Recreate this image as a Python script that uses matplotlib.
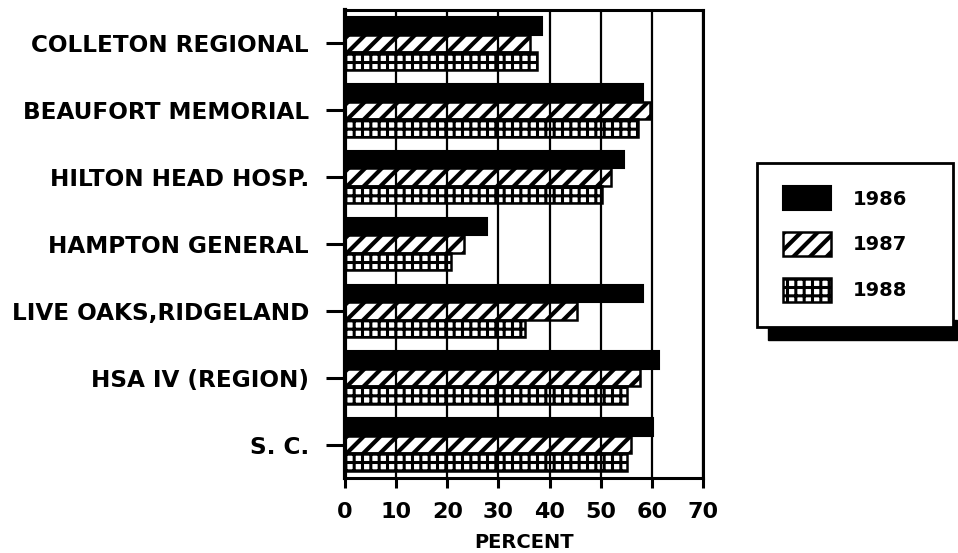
import matplotlib
matplotlib.use("Agg")
import matplotlib.pyplot as plt
from matplotlib.patches import Rectangle
import numpy as np

categories = ["COLLETON REGIONAL", "BEAUFORT MEMORIAL", "HILTON HEAD HOSP.",
              "HAMPTON GENERAL", "LIVE OAKS,RIDGELAND", "HSA IV (REGION)", "S. C."]
series_names = ["1986", "1987", "1988"]
v1986 = [38.5, 58.3, 54.6, 27.7, 58.3, 61.3, 60.3]
v1987 = [36.2, 59.7, 52.0, 23.3, 45.3, 57.7, 56.0]
v1988 = [37.6, 57.3, 50.2, 20.8, 35.1, 55.2, 55.2]
xticks = [0, 10, 20, 30, 40, 50, 60, 70]
xlabel = "PERCENT"

plt.rcParams['font.family'] = ['DejaVu Sans']
plt.rcParams['font.weight'] = 'bold'

W, H = 958, 553
fig = plt.figure(figsize=(W / 100, H / 100), dpi=100)
ax = fig.add_axes([345 / W, 1 - 478 / H, (703 - 345) / W, (478 - 10) / H])

y = np.arange(len(categories))
h = 0.262
hatch_lw = [0, 3.0, 2.2]

ax.set_axisbelow(True)
ax.grid(axis='x', color='black', lw=1.6, zorder=0)

with plt.rc_context({'hatch.linewidth': hatch_lw[1]}):
    b1 = ax.barh(y - h, v1986, height=h, color='black', edgecolor='black', lw=1.5,
                 label=series_names[0], zorder=2)
    b2 = ax.barh(y, v1987, height=h, facecolor='none', edgecolor='black', lw=1.8,
                 hatch='//', label=series_names[1], zorder=2)
with plt.rc_context({'hatch.linewidth': hatch_lw[2]}):
    b3 = ax.barh(y + h, v1988, height=h, facecolor='none', edgecolor='black', lw=1.8,
                 hatch='++', label=series_names[2], zorder=2)

ax.set_xlim(0, 70)
ax.set_ylim(len(categories) - 0.5, -0.5)
ax.set_xticks(xticks)
ax.set_xticklabels([str(t) for t in xticks], fontsize=16, fontweight='bold')
ax.set_yticks(y)
ax.set_yticklabels(categories, fontsize=16.7, fontweight='bold')
ax.tick_params(axis='y', direction='out', length=14, width=2.2, pad=12)
ax.tick_params(axis='x', direction='out', length=7, width=2.2, pad=10)
ax.set_xlabel(xlabel, fontsize=14, fontweight='bold', labelpad=8)
for s in ax.spines.values():
    s.set_linewidth(2.2)
ax.spines['left'].set_linewidth(3)

# legend box with shadow strip below
fig.patches.append(Rectangle((768 / W, 1 - 340 / H), (957 - 768) / W, (340 - 320) / H,
                             transform=fig.transFigure, facecolor='black',
                             edgecolor='black', zorder=1))
fig.patches.append(Rectangle((757 / W, 1 - 327 / H), (953 - 757) / W, (327 - 163) / H,
                             transform=fig.transFigure, facecolor='white',
                             edgecolor='black', lw=2, zorder=2))
leg = fig.legend(handles=[b1, b2, b3], labels=series_names, loc='center',
                 bbox_to_anchor=(845 / W, 1 - 244 / H), frameon=False,
                 prop={'size': 14, 'weight': 'bold'}, handlelength=2.5,
                 handleheight=1.55, labelspacing=1.1, handletextpad=1.1)
leg.set_zorder(5)
for hnd, lw in zip(leg.legend_handles, hatch_lw):
    if lw and hasattr(hnd, 'set_hatch_linewidth'):
        hnd.set_hatch_linewidth(lw)
    elif lw:
        hnd._hatch_linewidth = lw

fig.savefig("out.png", dpi=100)
